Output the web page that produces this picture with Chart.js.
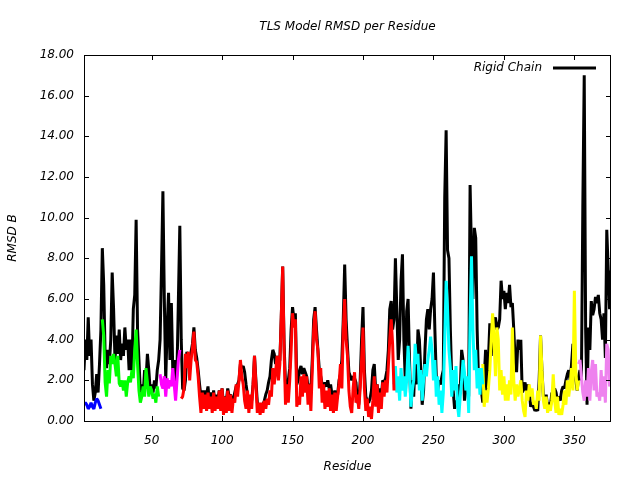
<!DOCTYPE html>
<html><head><meta charset="utf-8">
<script src="https://cdn.jsdelivr.net/npm/chart.js@4.4.1/dist/chart.umd.min.js"></script>
<style>html,body{margin:0;padding:0;background:#fff}</style>
</head><body>
<canvas id="c" width="640" height="480"></canvas>
<script>
// ---- text ----
const titleText = 'TLS Model RMSD per Residue';
const xAxisTitle = 'Residue';
const yAxisTitle = 'RMSD B';
const rigidLabel = 'Rigid Chain';

// ---- axes ----
const residueMin = 2;
const residueMax = 376;
const xTickValues = [50, 100, 150, 200, 250, 300, 350];
const yMin = 0, yMax = 18, yStep = 2;

// ---- Rigid chain RMSD, one value per residue starting at rigidStart ----
const rigidStart = 2;
const rigidRmsd = [
 2.5,4.0,3.0,5.1,3.2,4.0,1.8,1.0,1.4,2.3,
 1.4,2.8,4.5,8.5,6.7,3.2,2.6,3.5,2.8,4.0,
 7.3,5.5,3.0,4.2,3.3,4.5,3.0,3.8,3.2,4.6,
 3.5,4.0,2.5,4.0,2.5,5.5,6.2,9.9,4.5,3.0,
 1.4,1.8,1.3,2.5,2.0,3.3,2.5,1.5,1.8,1.4,
 2.0,1.6,2.5,3.0,4.0,7.5,11.3,6.0,2.0,4.5,
 6.3,3.0,5.8,2.5,3.0,1.5,2.5,6.0,9.6,4.0,
 1.6,1.5,2.0,3.4,3.0,3.0,3.4,3.8,4.6,3.5,
 3.1,2.5,1.8,1.2,1.5,1.0,1.5,1.3,1.7,0.9,
 1.4,0.8,1.5,0.7,1.3,1.0,1.5,0.8,1.6,0.8,
 1.2,1.0,1.6,1.2,1.3,0.9,1.1,1.4,1.7,1.8,
 2.0,2.8,2.6,2.7,2.4,1.8,1.3,1.0,1.2,1.0,
 1.8,3.2,2.0,0.9,0.7,0.6,0.5,0.8,1.0,1.3,
 1.5,1.9,2.2,3.0,3.5,3.3,2.8,3.2,2.8,3.0,
 5.1,7.6,3.8,1.8,1.6,2.0,2.6,4.5,5.6,5.0,
 5.3,1.8,2.0,2.5,2.7,2.3,2.6,2.4,2.2,1.7,
 1.8,1.5,3.0,5.0,5.6,4.5,3.5,2.5,2.2,1.8,
 1.6,1.9,1.7,2.0,1.6,1.8,1.3,1.1,1.5,1.0,
 1.3,2.0,2.3,3.0,5.0,7.7,5.0,3.6,2.4,2.2,
 2.0,2.2,2.1,1.9,1.0,0.8,2.0,4.0,5.6,2.5,
 1.2,1.0,0.9,1.1,1.5,2.5,2.8,1.5,1.8,1.3,
 1.6,1.2,2.0,1.9,2.1,2.5,3.5,5.5,5.9,4.5,
 5.0,8.0,5.5,3.0,4.0,6.9,8.2,4.0,2.0,5.4,
 6.0,3.0,0.6,2.0,1.2,3.0,1.8,4.5,4.0,2.5,
 0.8,1.5,3.5,5.0,5.5,4.5,5.5,6.0,7.3,4.5,
 2.2,1.5,2.0,1.8,2.2,2.5,11.0,14.3,8.4,8.0,
 4.5,2.0,1.5,0.6,1.0,0.9,1.8,1.5,3.5,3.0,
 1.0,1.5,2.0,1.2,11.6,8.2,6.0,9.5,9.0,4.5,
 2.0,1.8,1.5,0.9,2.0,3.5,1.3,3.0,4.8,3.2,
 4.5,4.8,5.1,4.5,4.6,5.0,6.9,6.0,6.4,5.5,
 6.3,5.8,6.7,5.6,5.8,4.5,3.0,2.4,4.0,3.5,
 4.0,1.4,1.6,1.9,1.4,1.8,1.5,0.7,0.9,0.7,
 0.5,0.6,0.5,2.0,4.2,2.5,1.2,1.0,1.3,0.7,
 0.9,0.7,1.4,1.2,1.6,1.4,1.0,1.2,1.0,1.5,
 1.7,1.6,2.0,2.3,2.5,2.0,2.8,3.8,3.5,2.0,
 1.5,2.2,2.5,2.0,10.5,17.0,4.5,0.8,4.6,3.5,
 5.9,5.2,5.5,6.1,5.8,6.2,5.3,5.0,4.0,5.3,
 3.1,9.4,7.5,5.5,7.4
];

// ---- TLS groups: first residue and RMSD per residue ----
const group1Start = 2;
const group1Rmsd = [0.8,0.9,0.8,0.6,0.7,0.9,0.7,0.6,0.9,1.1,1.0,0.8,0.6];
const group2Start = 15;
const group2Rmsd = [
 5.0,4.2,1.9,1.2,2.5,1.85,3.2,2.8,3.3,2.8,
 2.2,3.2,1.85,1.7,2.0,1.5,2.0,1.2,1.9,2.2,
 1.9,2.5,2.1,3.5,4.5,2.8,1.5,0.9,1.2,1.7,
 1.2,2.6,1.9,1.2,1.7,1.5,1.1,1.35,0.9,1.7,
 1.2];
const group3Start = 56;
const group3Rmsd = [2.3,1.8,1.6,2.2,1.2,2.1,1.6,2.0,1.7,2.6,1.8,1.0,2.0,3.0,3.5];
const group4Start = 71;
const group4Rmsd = [
 1.1,1.2,1.6,3.3,2.6,3.4,2.0,3.0,3.6,4.4,
 3.0,2.9,2.2,1.2,0.4,1.4,0.6,1.3,0.5,1.4,
 0.6,1.2,0.4,1.4,0.5,1.2,0.6,1.5,0.5,1.6,
 0.3,1.2,0.4,1.5,0.5,1.3,0.4,1.1,0.9,1.8,
 1.2,2.0,3.0,2.2,1.8,1.0,0.6,1.5,0.4,1.3,
 0.6,1.8,3.2,1.8,0.4,0.9,0.3,0.9,0.4,1.0,
 0.6,1.1,0.8,1.5,1.2,2.6,1.8,2.4,3.2,2.0,
 2.8,5.1,7.6,3.5,0.8,1.8,0.9,2.0,3.5,5.3,
 4.6,5.0,0.7,1.2,0.8,2.2,1.2,2.3,1.4,2.2,
 0.8,1.8,0.5,2.5,4.5,5.4,4.0,3.5,1.6,2.6,
 0.9,1.8,0.6,1.5,0.7,1.6,0.5,1.3,0.4,1.4,
 0.5,1.2,1.8,2.8,1.6,4.5,6.0,4.0,3.2,1.5,
 0.7,0.4,1.6,2.4,0.9,1.3,0.6,1.6,3.0,4.6,
 1.6,0.5,1.1,0.2,0.7,0.1,1.0,2.2,0.7,1.8,
 0.4,1.4,0.6,1.9,1.2,2.0,1.4,2.7,4.0,5.0,
 3.8,1.5];
const group5Start = 222;
const group5Rmsd = [
 1.8,2.7,1.4,2.2,1.0,2.6,1.5,2.2,1.2,2.0,
 3.7,2.4,0.7,1.5,2.0,3.8,2.8,3.3,1.5,2.5,
 1.0,2.0,2.8,2.2,3.0,3.5,4.15,3.5,2.0,3.0,
 1.2,2.2,0.8,1.5,0.4,1.4,4.0,6.9,5.5,3.5,
 2.6,1.2,2.5,1.5,2.7,0.8,0.2,1.2,2.0,3.0,
 2.4,1.5,2.2,0.4,5.0,8.1,4.5,2.5,3.5,1.6,
 2.6,1.3,2.6,1.8];
const group6Start = 285;
const group6Rmsd = [
 2.8,0.7,1.5,0.9,1.6,2.5,4.0,5.3,4.0,2.2,
 4.6,4.0,1.5,2.5,1.3,2.2,1.0,1.8,1.0,2.0,
 1.3,4.6,2.0,1.0,1.8,1.2,1.6,2.0,1.0,0.5,
 0.2,1.5,1.0,1.8,1.2,1.6,0.8,1.0,0.6,1.5,
 1.0,4.2,2.5,1.0,0.6,1.2,0.4,0.8,0.5,1.0,
 2.3,1.0,0.4,1.2,0.3,0.6,0.3,0.8,1.5,0.8,
 2.0,1.2,1.8,2.6,1.5,6.4,2.5,1.5,2.0];
const group7Start = 353;
const group7Rmsd = [
 2.8,3.0,2.2,1.4,1.0,2.0,1.2,2.6,1.0,2.4,
 3.0,1.5,2.8,1.2,1.4,1.0,2.5,1.2,2.2,0.9,
 3.8,3.5,1.7,2.0];

// ---- styles ----
const groupColors = ['#0000ff','#00ff00','#ff00ff','#ff0000','#00ffff','#ffff00','#ee82ee'];
const FONT = '"DejaVu Sans", sans-serif';

function toPoints(start, values) {
  return values.map((v, i) => ({x: start + i, y: v}));
}
const groups = [
  [group1Start, group1Rmsd], [group2Start, group2Rmsd], [group3Start, group3Rmsd],
  [group4Start, group4Rmsd], [group5Start, group5Rmsd], [group6Start, group6Rmsd],
  [group7Start, group7Rmsd]
];

const datasets = [{
  label: rigidLabel,
  data: toPoints(rigidStart, rigidRmsd),
  borderColor: '#000000',
  borderWidth: 3,
  order: 1
}].concat(groups.map((g, i) => ({
  label: 'TLS group ' + (i + 1),
  data: toPoints(g[0], g[1]),
  borderColor: groupColors[i],
  borderWidth: 3,
  order: 0
})));
datasets.forEach(d => {
  d.pointRadius = 0; d.pointHoverRadius = 0; d.tension = 0;
  d.fill = false; d.clip = 0; d.borderJoinStyle = 'bevel'; d.borderCapStyle = 'butt';
});

const framePlugin = {
  id: 'gnuframe',
  afterDraw(chart) {
    const {ctx, chartArea: a, scales} = chart;
    ctx.save();
    ctx.strokeStyle = '#000';
    ctx.lineWidth = 1;
    ctx.strokeRect(Math.round(a.left) + 0.5, Math.round(a.top) + 0.5,
                   Math.round(a.right - a.left) - 1, Math.round(a.bottom - a.top));
    const tl = 5;
    ctx.beginPath();
    xTickValues.forEach(v => {
      const px = Math.round(scales.x.getPixelForValue(v)) + 0.5;
      ctx.moveTo(px, a.bottom); ctx.lineTo(px, a.bottom - tl);
      ctx.moveTo(px, a.top); ctx.lineTo(px, a.top + tl);
    });
    for (let v = yMin + yStep; v < yMax; v += yStep) {
      const py = Math.round(scales.y.getPixelForValue(v)) + 0.5;
      ctx.moveTo(a.left, py); ctx.lineTo(a.left + tl, py);
      ctx.moveTo(a.right, py); ctx.lineTo(a.right - tl, py);
    }
    ctx.stroke();
    // title
    ctx.fillStyle = '#000';
    ctx.font = 'italic 12px ' + FONT;
    ctx.textAlign = 'center';
    ctx.textBaseline = 'middle';
    ctx.fillText(titleText, (a.left + a.right) / 2, 27);
    // legend (rigid chain only)
    const ds = chart.data.datasets[0];
    const lineEnd = a.right - 15, lineStart = lineEnd - 43, ly = a.top + 13;
    ctx.textAlign = 'right';
    ctx.fillText(ds.label, lineStart - 11, ly);
    ctx.strokeStyle = ds.borderColor;
    ctx.lineWidth = 3;
    ctx.beginPath();
    ctx.moveTo(lineStart, ly); ctx.lineTo(lineEnd, ly);
    ctx.stroke();
    ctx.restore();
  }
};

new Chart(document.getElementById('c'), {
  type: 'line',
  data: {datasets},
  options: {
    responsive: false,
    animation: false,
    devicePixelRatio: 1,
    layout: {padding: {top: 55, right: 29, left: 0, bottom: 0}},
    plugins: {legend: {display: false}, tooltip: {enabled: false}, title: {display: false}},
    scales: {
      x: {
        type: 'linear', min: residueMin, max: residueMax,
        afterBuildTicks: axis => { axis.ticks = xTickValues.map(v => ({value: v})); },
        afterFit: s => { s.height = 59; },
        grid: {display: false, drawTicks: false},
        border: {display: false},
        ticks: {color: '#000', font: {family: FONT, size: 12, style: 'italic'}, padding: 13,
                maxRotation: 0, autoSkip: false, callback: v => String(v)},
        title: {display: true, text: xAxisTitle, color: '#000',
                font: {family: FONT, size: 12, style: 'italic'}, padding: {top: 0, bottom: 6}}
      },
      y: {
        min: yMin, max: yMax,
        afterFit: s => { s.width = 84; },
        grid: {display: false, drawTicks: false},
        border: {display: false},
        ticks: {stepSize: yStep, color: '#000', font: {family: FONT, size: 12, style: 'italic'},
                padding: 10, callback: v => Number(v).toFixed(2)},
        title: {display: true, text: yAxisTitle, color: '#000',
                font: {family: FONT, size: 12, style: 'italic'}, padding: {top: 6, bottom: 0}}
      }
    }
  },
  plugins: [framePlugin]
});
</script>
</body></html>
